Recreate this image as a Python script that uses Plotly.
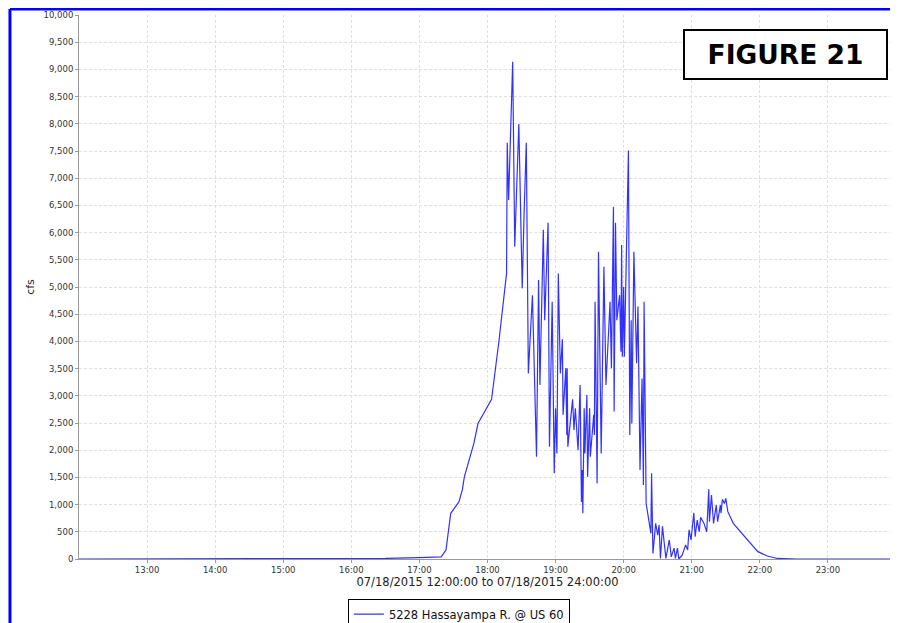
import plotly.graph_objects as go
import pandas as pd

hours = [12.0, 14.0, 16.0, 16.5, 17.0, 17.32, 17.39, 17.46, 17.58, 17.63, 17.66, 17.80, 17.86, 18.06, 18.17, 18.28,
         18.29, 18.31, 18.37, 18.40, 18.46, 18.51, 18.54, 18.57, 18.60, 18.66, 18.72, 18.75, 18.77, 18.82, 18.84,
         18.89, 18.91, 18.95, 18.98, 19.00, 19.02, 19.04, 19.07, 19.10, 19.11, 19.15, 19.165, 19.17, 19.18, 19.25,
         19.27, 19.29, 19.33, 19.36, 19.38, 19.39, 19.40, 19.42, 19.43, 19.46, 19.47, 19.50, 19.51, 19.56, 19.57,
         19.58, 19.61, 19.63, 19.67, 19.71, 19.74, 19.80, 19.82, 19.85, 19.86, 19.88, 19.90, 19.94, 19.96, 19.97,
         19.98, 20.00, 20.01, 20.07, 20.09, 20.11, 20.12, 20.15, 20.19, 20.21, 20.24, 20.27, 20.29, 20.30, 20.33,
         20.40, 20.41, 20.43, 20.47, 20.50, 20.52, 20.54, 20.57, 20.62, 20.67, 20.70, 20.74, 20.76, 20.79, 20.81,
         20.86, 20.91, 20.94, 20.96, 20.99, 21.03, 21.05, 21.08, 21.11, 21.13, 21.18, 21.22, 21.25, 21.26, 21.29,
         21.32, 21.36, 21.38, 21.42, 21.43, 21.45, 21.48, 21.50, 21.53, 21.61, 21.78, 21.97, 22.11, 22.26, 22.55, 24.0]
cfs = [0, 0, 0, 10, 25, 40, 165, 840, 1050, 1270, 1510, 2125, 2490, 2935, 4025, 5250,
       7650, 6600, 9140, 5740, 7995, 4975, 6475, 7650, 3410, 4850, 1880, 5130, 3200, 6050, 4390,
       6180, 2065, 4730, 1575, 2770, 1940, 5250, 3410, 4040, 2650, 3505, 2280, 3505, 2065, 2935,
       2370, 2770, 2000, 3200, 1050, 1635, 840, 2770, 1940, 3015, 1510, 2770, 1880, 2650, 2280,
       4730, 1390, 5650, 1940, 5370, 3200, 4730, 3505, 6475, 2710, 6180, 4390, 4850, 3810, 5770,
       3720, 5000, 3720, 7510, 2280, 4390, 2490, 5650, 3600, 4640, 1635, 3320, 1360, 4730, 1020,
       470, 1575, 100, 655, 440, 625, 10, 600, 10, 350, 40, 200, 10, 200, 0,
       70, 260, 165, 535, 350, 850, 410, 715, 500, 765, 655, 500, 1280, 685, 1175,
       655, 990, 685, 990, 840, 1095, 1020, 1115, 870, 655, 410, 135, 55, 10, 0, 0]

base = pd.Timestamp("2015-07-18 00:00:00")
times = [base + pd.Timedelta(hours=h) for h in hours]
tickvals = [base + pd.Timedelta(hours=h) for h in range(13, 24)]
ticktext = [f"{h}:00" for h in range(13, 24)]

fig = go.Figure()
fig.add_trace(go.Scatter(x=times, y=cfs, mode="lines", name="5228 Hassayampa R. @ US 60",
                         line=dict(color="#0000ff", width=1.2), opacity=0.8))

grid = dict(showgrid=True, gridcolor="#e0e0e0", griddash="3px,2px", gridwidth=1)
fig.update_layout(
    width=898, height=623, margin=dict(l=71, r=10, t=7, b=72, autoexpand=False),
    paper_bgcolor="white", plot_bgcolor="white",
    font=dict(family="DejaVu Sans", size=8.5, color="#333333"),
    xaxis=dict(range=[base + pd.Timedelta(hours=12), base + pd.Timedelta(hours=24)], automargin=False,
               tickvals=tickvals, ticktext=ticktext, ticks="outside", ticklen=3, tickcolor="#999",
               showline=True, linecolor="#999", **grid,
               title=dict(text="07/18/2015 12:00:00 to 07/18/2015 24:00:00", font=dict(size=11.5, color="#222"), standoff=3)),
    yaxis=dict(range=[0, 10000], dtick=500, tickformat=",", ticks="outside", ticklen=3, tickcolor="#999",
               showline=True, linecolor="#999", automargin=False, **grid,
               title=dict(text="cfs", font=dict(size=11, color="#222"), standoff=6)),
    showlegend=True,
    legend=dict(x=0.465, xanchor="center", y=-0.073, yanchor="top", orientation="h",
                bordercolor="black", borderwidth=1, font=dict(size=11.5, color="#111"),
                bgcolor="white", itemwidth=30),
    shapes=[
        dict(type="line", xref="paper", yref="paper", x0=-0.0845, x1=-0.0845, y0=-0.14, y1=1.011,
             line=dict(color="#0000ff", width=3)),
        dict(type="line", xref="paper", yref="paper", x0=-0.0845, x1=1.02, y0=1.011, y1=1.011,
             line=dict(color="#0000ff", width=3)),
    ],
    annotations=[dict(text="<b>FIGURE 21</b>", xref="paper", yref="paper",
                      x=(779 - 79) / 809, y=1 - (55 - 15) / 544, xanchor="center", yanchor="middle",
                      showarrow=False,
                      font=dict(size=26.5, color="black", family="DejaVu Sans"),
                      bordercolor="black", borderwidth=2, borderpad=8, bgcolor="white", width=185)],
)
fig.write_html("out.html")
